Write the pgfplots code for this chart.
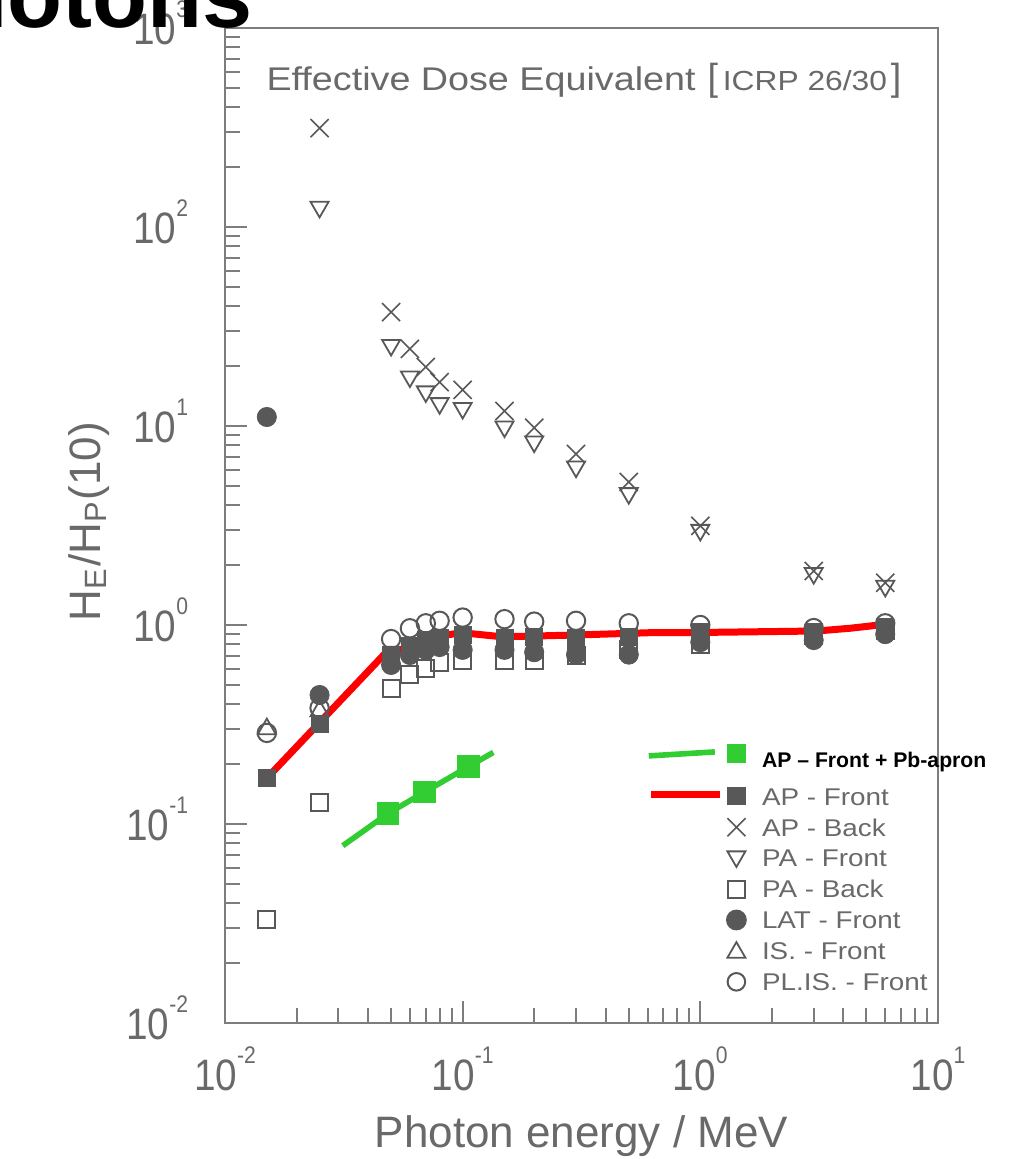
\documentclass[border=0pt]{standalone}
\usepackage{fontspec}
\setmainfont{Liberation Sans}
\newfontfamily\grayfont[FakeStretch=1.15]{Liberation Sans}
\newfontfamily\tickfam[FakeStretch=0.88]{Liberation Sans}
\usepackage{graphicx}
\usepackage{pgfplots}
\pgfplotsset{compat=1.18}
\definecolor{axisgray}{RGB}{125,125,125}
\definecolor{textgray}{RGB}{105,105,105}
\definecolor{markgray}{RGB}{88,88,88}
\definecolor{greenc}{RGB}{50,205,50}
\newcommand\tl[1]{\mbox{\tickfam\fontsize{11}{13}\selectfont 10\raisebox{6.7pt}{\fontsize{6}{7}\selectfont #1}}}
\newcommand\legf{\grayfont\fontsize{6.05}{7.5}\selectfont\color{textgray}}
\begin{document}
\begin{tikzpicture}
\begin{axis}[
  at={(0,0)}, anchor=south west,
  xmode=log, ymode=log, scale only axis,
  width=178.25pt, height=248.75pt,
  xmin=0.01, xmax=10, ymin=0.01, ymax=1000,
  clip=false,
  axis line style={draw=axisgray, line width=0.7pt},
  tick align=inside, xtick pos=left, ytick pos=left,
  major tick length=5.5pt, minor tick length=3.75pt,
  tick style={draw=axisgray, line width=0.5pt},
  xtick={0.01,0.1,1,10},
  xticklabels={\tl{-2},\tl{-1},\tl{0},\tl{1}},
  ytick={0.01,0.1,1,10,100,1000},
  yticklabels={\tl{-2},\tl{-1},\tl{0},\tl{1},\tl{2},\tl{3}},
  minor xtick={0.02,0.03,0.04,0.05,0.06,0.07,0.08,0.09,0.2,0.3,0.4,0.5,0.6,0.7,0.8,0.9,2,3,4,5,6,7,8,9},
  minor ytick={0.02,0.03,0.04,0.05,0.06,0.07,0.08,0.09,0.2,0.3,0.4,0.5,0.6,0.7,0.8,0.9,2,3,4,5,6,7,8,9,20,30,40,50,60,70,80,90,200,300,400,500,600,700,800,900},
  xticklabel style={anchor=base, inner sep=0pt, yshift=-16.75pt, text=textgray},
  yticklabel style={anchor=base east, inner sep=0pt, xshift=-9pt, yshift=-4pt, text=textgray},
  xlabel={Photon energy / MeV},
  xlabel style={at={(axis description cs:0.5,-0.1256)}, anchor=base, inner sep=0pt, text=textgray, font=\fontsize{11}{13}\selectfont},
  ylabel={H\textsubscript{E}/H\textsubscript{P}(10)},
  ylabel style={at={(axis description cs:-0.1753,0.504)}, rotate=0, anchor=base, inner sep=0pt, text=textgray, font=\fontsize{11}{13}\selectfont},
  legend style={draw=none, fill=none, inner sep=0pt, outer sep=0pt, row sep=0.05pt, column sep=3.4pt,
    at={(axis description cs:0.5905,0.2803)}, anchor=north west,
    nodes={anchor=base west, inner sep=0pt, outer sep=0pt, text height=5.5pt, text depth=0pt, text=textgray}},
]
% PA - Back (open squares)
\addplot[forget plot, only marks, mark=square, mark size=2.125pt, mark options={draw=markgray, line width=0.5pt}] coordinates {
(0.015,0.033)(0.025,0.128)(0.05,0.477)(0.06,0.561)(0.07,0.608)(0.08,0.646)(0.1,0.667)(0.15,0.667)(0.2,0.667)(0.3,0.70)(0.5,0.75)(1,0.80)(3,0.89)(6,0.94)};
% IS - Front (open triangles)
\addplot[forget plot, only marks, mark=triangle, mark size=2.6pt, mark options={draw=markgray, line width=0.45pt}] coordinates {
(0.015,0.30)(0.025,0.37)};
% PL.IS - Front (open circles)
\addplot[forget plot, only marks, mark=o, mark size=2.3pt, mark options={draw=markgray, line width=0.5pt}] coordinates {
(0.015,0.287)(0.025,0.383)(0.05,0.85)(0.06,0.963)(0.07,1.02)(0.08,1.05)(0.1,1.09)(0.15,1.07)(0.2,1.04)(0.3,1.05)(0.5,1.02)(1,1.0)(3,0.965)(6,1.02)};
% LAT - Front (filled circles)
\addplot[forget plot, only marks, mark=*, mark size=2.4pt, mark options={draw=markgray, fill=markgray, line width=0.2pt}] coordinates {
(0.015,11.1)(0.025,0.445)(0.05,0.63)(0.06,0.707)(0.07,0.75)(0.08,0.775)(0.1,0.75)(0.15,0.75)(0.2,0.73)(0.3,0.71)(0.5,0.71)(1,0.82)(3,0.84)(6,0.90)};
% AP - Front (filled squares)
\addplot[forget plot, only marks, mark=square*, mark size=2.125pt, mark options={draw=markgray, fill=markgray, line width=0.2pt}] coordinates {
(0.015,0.17)(0.025,0.318)(0.05,0.707)(0.06,0.79)(0.07,0.84)(0.08,0.86)(0.1,0.89)(0.15,0.86)(0.2,0.87)(0.3,0.86)(0.5,0.87)(1,0.92)(3,0.92)(6,0.98)};
% AP - Back (crosses)
\addplot[forget plot, only marks, mark=x, mark size=3.2pt, mark options={draw=markgray, line width=0.4pt}] coordinates {
(0.025,314)(0.05,37.4)(0.06,24.4)(0.07,19.8)(0.08,16.6)(0.1,15.2)(0.15,11.9)(0.2,9.8)(0.3,7.23)(0.5,5.23)(1,3.15)(3,1.87)(6,1.63)};
% PA - Front (down triangles)
\addplot[forget plot, only marks, mark=triangle, mark size=2.6pt, mark options={draw=markgray, line width=0.45pt, rotate=180}] coordinates {
(0.025,126)(0.05,25.5)(0.06,17.7)(0.07,14.9)(0.08,13.0)(0.1,12.3)(0.15,9.92)(0.2,8.34)(0.3,6.24)(0.5,4.59)(1,3.0)(3,1.82)(6,1.57)};
% AP - Front fit (red)
\addplot[forget plot, red, line width=1.75pt, no markers] coordinates {
(0.015,0.17)(0.049,0.755)(0.0575,0.755)(0.065,0.815)(0.0802,0.88)(0.099,0.915)(0.146,0.873)(0.198,0.88)(0.291,0.89)(0.614,0.915)(0.845,0.915)(3.09,0.933)(4.26,0.963)(5.17,0.988)(5.87,1.008)};
% AP - Front + Pb-apron (green)
\addplot[forget plot, greenc, line width=1.4pt, mark=square*, mark size=2.125pt, mark indices={2,3,4}, mark options={draw=none, fill=greenc}] coordinates {
(0.0313,0.0778)(0.0486,0.113)(0.0693,0.145)(0.1056,0.194)(0.1346,0.229)};
% legend
\addlegendimage{legend image code/.code={
  \draw[draw=greenc, line width=1.4pt] (-21.9pt,3pt) -- (-5.4pt,4pt);
  \fill[greenc] (-2.125pt,1.5pt) rectangle (2.125pt,5.75pt);
  \path[draw=none, fill=none] (3pt,-3.75pt) -- (3pt,5.75pt);}}
\addlegendentry{{\rmfamily\bfseries\color{black}\fontsize{5.3}{6}\selectfont AP – Front + Pb-apron}}
\addlegendimage{legend image code/.code={
  \draw[draw=red, line width=1.75pt] (-21.4pt,2.6pt) -- (-4.1pt,2.6pt);
  \fill[markgray] (-2.125pt,0.25pt) rectangle (2.125pt,4.25pt);
  \path[draw=none, fill=none] (3pt,-2.18pt) -- (3pt,5.5pt);}}
\addlegendentry{\legf AP - Front}
\addlegendimage{legend image code/.code={
  \draw[markgray, line width=0.4pt] plot[mark=x, mark size=3.2pt, only marks] coordinates {(0pt,2.2pt)};
  \path[draw=none, fill=none] (3pt,-2.18pt) -- (3pt,5.5pt);}}
\addlegendentry{\legf AP - Back}
\addlegendimage{legend image code/.code={
  \draw[markgray, line width=0.45pt] plot[mark=triangle, mark size=2.6pt, mark options={rotate=180}, only marks] coordinates {(0pt,2.6pt)};
  \path[draw=none, fill=none] (3pt,-2.18pt) -- (3pt,5.5pt);}}
\addlegendentry{\legf PA - Front}
\addlegendimage{legend image code/.code={
  \draw[markgray, line width=0.5pt] plot[mark=square, mark size=2.125pt, only marks] coordinates {(0pt,2.2pt)};
  \path[draw=none, fill=none] (3pt,-2.18pt) -- (3pt,5.5pt);}}
\addlegendentry{\legf PA - Back}
\addlegendimage{legend image code/.code={
  \fill[markgray] (0pt,2.2pt) circle (2.4pt);
  \path[draw=none, fill=none] (3pt,-2.18pt) -- (3pt,5.5pt);}}
\addlegendentry{\legf LAT - Front}
\addlegendimage{legend image code/.code={
  \draw[markgray, line width=0.45pt] plot[mark=triangle, mark size=2.6pt, only marks] coordinates {(0pt,1.8pt)};
  \path[draw=none, fill=none] (3pt,-2.18pt) -- (3pt,5.5pt);}}
\addlegendentry{\legf IS. - Front}
\addlegendimage{legend image code/.code={
  \draw[markgray, line width=0.5pt] (0pt,2.2pt) circle (2.2pt);
  \path[draw=none, fill=none] (3pt,-2.18pt) -- (3pt,5.5pt);}}
\addlegendentry{\legf PL.IS. - Front}
% inner title
\node[anchor=base west, inner sep=0pt, text=textgray] at (axis description cs:0.0571,0.9377)
  {\grayfont\fontsize{8.2}{10}\selectfont Effective Dose Equivalent\hspace{3pt}\scalebox{1}[1.15]{[}\hspace{1.2pt}{\fontsize{6.9}{8}\selectfont ICRP 26/30}\hspace{1pt}\scalebox{1}[1.15]{]}};
\end{axis}
\begin{scope}
\clip (-56.25pt,-34pt) rectangle (197.5pt,255.75pt);
\node[anchor=base east, inner sep=0pt, font=\bfseries\fontsize{22.5}{27}\selectfont] at (7pt,249pt) {Photons};
\end{scope}
\pgfresetboundingbox
\useasboundingbox (-56.25pt,-34pt) rectangle (197.5pt,255.75pt);
\end{tikzpicture}
\end{document}
